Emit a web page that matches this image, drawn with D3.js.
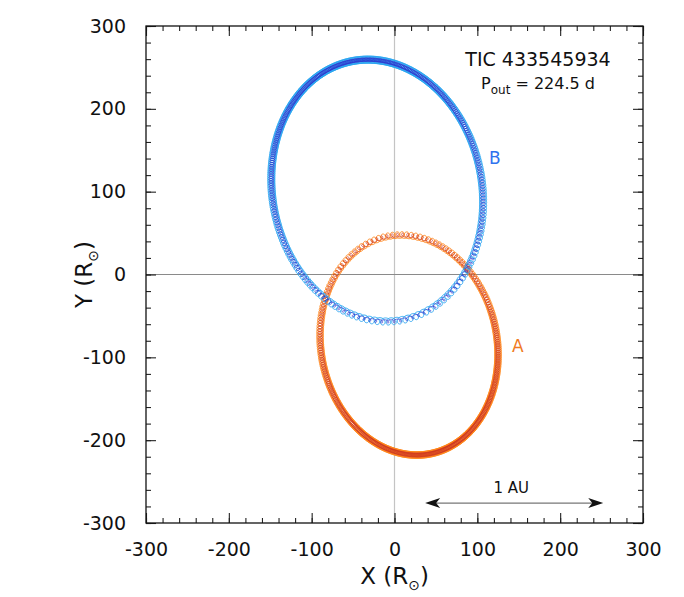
<!DOCTYPE html>
<html>
<head>
<meta charset="utf-8">
<script src="https://cdn.jsdelivr.net/npm/d3@7"></script>
<style>
body { margin: 0; background: #fff; }
svg { display: block; font-family: "DejaVu Sans", Verdana, sans-serif; }
</style>
</head>
<body>
<div id="chart"></div>
<script>
var width = 684, height = 597;
var margin = {top: 26, right: 41, bottom: 74, left: 146};

// axis ticks
var majorTicks = [-300, -200, -100, 0, 100, 200, 300];
var tickLabels = ["-300", "-200", "-100", "0", "100", "200", "300"];
var minorStep = 20;

var stars = ["A", "B"];
var orbitScale = [1, -1.19];
var eccentricity = 0.65;
var periVector = [-27, 131];   // projected semi-major axis, toward periastron
var minorVector = [104, 22];   // projected semi-minor axis
// inner loops per outer orbit, for the two overplotted traces (light, dark)
var loopCount = [330, 297];
var loopPhase = [0, 1.3];
var loopRadiusA = [[4.0, 4.0], [2.6, 2.3]];
var loopRadiusB = [[4.3, 4.3], [2.7, 2.0]];

var labelPos = {A: [149, -86], B: [121, 141]};
var auArrow = [37, 252];
var auY = -276;

var traceColors = {A: ["#ff8418", "#cc3320"], B: ["#27a4f0", "#2a30cc"]};
var traceWidths = [0.9, 0.7];
var labelColors = {A: "#f07a22", B: "#2f72ee"};

var svg = d3.select("#chart").append("svg").attr("width", width).attr("height", height);

var x = d3.scaleLinear().domain([-300, 300]).range([margin.left, width - margin.right]);
var y = d3.scaleLinear().domain([-300, 300]).range([height - margin.bottom, margin.top]);

// zero lines
svg.append("line").attr("x1", x(0)).attr("x2", x(0)).attr("y1", y(300)).attr("y2", y(-300))
    .attr("stroke", "#c4c4c4").attr("stroke-width", 1.2);
svg.append("line").attr("x1", x(-300)).attr("x2", x(300)).attr("y1", y(0)).attr("y2", y(0))
    .attr("stroke", "#8a8a8a").attr("stroke-width", 1);

function kepler(M, e) {
    var E = M;
    for (var i = 0; i < 10; i++) {
        E = E - (E - e * Math.sin(E) - M) / (1 - e * Math.cos(E));
    }
    return E;
}

function orbitPath(s, k) {
    var rad = s == 0 ? loopRadiusA[k] : loopRadiusB[k];
    var n = loopCount[k] * 28;
    var pts = [];
    for (var j = 0; j <= n; j++) {
        var M = 2 * Math.PI * j / n;
        var E = kepler(M, eccentricity);
        var ox = periVector[0] * (Math.cos(E) - eccentricity) + minorVector[0] * Math.sin(E);
        var oy = periVector[1] * (Math.cos(E) - eccentricity) + minorVector[1] * Math.sin(E);
        var ph = loopCount[k] * M + loopPhase[k];
        pts.push([orbitScale[s] * ox + rad[0] * Math.cos(ph), orbitScale[s] * oy + rad[1] * Math.sin(ph)]);
    }
    return pts;
}

var line = d3.line().x(function(d) { return x(d[0]); }).y(function(d) { return y(d[1]); });

stars.forEach(function(name, s) {
    [0, 1].forEach(function(k) {
        svg.append("path")
            .attr("d", line(orbitPath(s, k)))
            .attr("fill", "none")
            .attr("stroke", traceColors[name][k])
            .attr("stroke-width", traceWidths[k]);
    });
    svg.append("text")
        .attr("x", x(labelPos[name][0]))
        .attr("y", y(labelPos[name][1]))
        .attr("dy", "0.35em")
        .attr("text-anchor", "middle")
        .attr("font-size", 17)
        .attr("fill", labelColors[name])
        .text(name);
});

// frame and ticks
function addAxis(axis, tx, ty, labels) {
    var g = svg.append("g").attr("transform", "translate(" + tx + "," + ty + ")");
    g.call(axis.tickValues(d3.range(-300, 301, minorStep)).tickSize(-5).tickFormat(""));
    g.select(".domain").remove();
    var g2 = svg.append("g").attr("transform", "translate(" + tx + "," + ty + ")");
    g2.call(axis.tickValues(majorTicks).tickSize(-10).tickPadding(labels ? 20 : 0)
        .tickFormat(function(d, i) { return labels ? tickLabels[i] : ""; }));
    g2.select(".domain").remove();
    g2.selectAll("text").attr("font-size", 19).attr("fill", "#111").attr("font-family", "DejaVu Sans, Verdana, sans-serif");
    svg.selectAll(".tick line").attr("stroke", "#222").attr("stroke-width", 1.1);
}
addAxis(d3.axisBottom(x), 0, y(-300), true);
addAxis(d3.axisTop(x), 0, y(300), false);
addAxis(d3.axisLeft(y), x(-300), 0, true);
addAxis(d3.axisRight(y), x(300), 0, false);

svg.append("rect")
    .attr("x", x(-300)).attr("y", y(300))
    .attr("width", x(300) - x(-300)).attr("height", y(-300) - y(300))
    .attr("fill", "none").attr("stroke", "#111").attr("stroke-width", 1.3);

// 1 AU arrow
svg.append("line")
    .attr("x1", x(auArrow[0]) + 8).attr("x2", x(auArrow[1]) - 8)
    .attr("y1", y(auY)).attr("y2", y(auY))
    .attr("stroke", "#777").attr("stroke-width", 1.3);
function arrowHead(px, py, dir) {
    var p = [[px, py], [px - dir * 15, py - 5], [px - dir * 11, py], [px - dir * 15, py + 5]];
    svg.append("path").attr("d", "M" + p.join("L") + "Z").attr("fill", "#111");
}
arrowHead(x(auArrow[0]), y(auY), -1);
arrowHead(x(auArrow[1]), y(auY), 1);
svg.append("text")
    .attr("x", (x(auArrow[0]) + x(auArrow[1])) / 2 - 3)
    .attr("y", y(auY) - 10)
    .attr("text-anchor", "middle")
    .attr("font-size", 15)
    .attr("fill", "#111")
    .text("1 AU");

// title
svg.append("text")
    .attr("x", 538).attr("y", 66)
    .attr("text-anchor", "middle")
    .attr("font-size", 19)
    .attr("fill", "#111")
    .text("TIC 433545934");
var sub = svg.append("text")
    .attr("x", 538).attr("y", 89)
    .attr("text-anchor", "middle")
    .attr("font-size", 16)
    .attr("fill", "#111");
sub.append("tspan").text("P");
sub.append("tspan").attr("font-size", 12).attr("dy", 5).text("out");
sub.append("tspan").attr("dy", -5).text(" = 224.5 d");

// axis titles
var xl = svg.append("text")
    .attr("x", x(0)).attr("y", 584)
    .attr("text-anchor", "middle")
    .attr("font-size", 23)
    .attr("fill", "#111");
xl.append("tspan").text("X (R");
xl.append("tspan").attr("font-size", 14).attr("dy", 6).text("\u2299");
xl.append("tspan").attr("dy", -6).text(")");

var yl = svg.append("text")
    .attr("transform", "translate(92," + y(0) + ") rotate(-90)")
    .attr("text-anchor", "middle")
    .attr("font-size", 23)
    .attr("fill", "#111");
yl.append("tspan").text("Y (R");
yl.append("tspan").attr("font-size", 14).attr("dy", 6).text("\u2299");
yl.append("tspan").attr("dy", -6).text(")");
</script>
</body>
</html>
